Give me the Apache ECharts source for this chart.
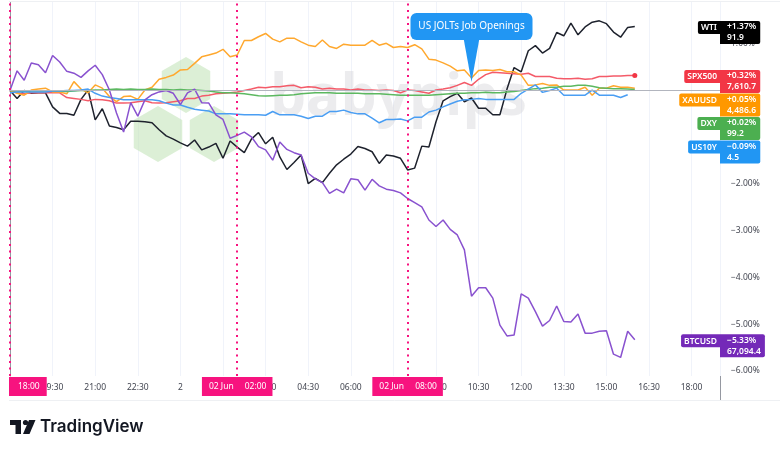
<!DOCTYPE html>
<html><head><meta charset="utf-8">
<script src="https://cdn.jsdelivr.net/npm/echarts@6/dist/echarts.min.js"></script>
<style>html,body{margin:0;padding:0;background:#fff}#c{width:780px;height:451px}</style>
</head><body><div id="c"></div>
<script>
// ---- data (percent change vs 18:00, 15-minute bars) ----
const stepHours = 0.25;                 // bar spacing in hours from 18:00 (1 Jun)
const tickLabels = ['18:00','19:30','21:00','22:30','2','01:30','03:00','04:30','06:00','07:30','09:00','10:30','12:00','13:30','15:00','16:30','18:00'];
const yTicks = [1,0,-1,-2,-3,-4,-5,-6];
const sessionMarks = [0, 8, 14];        // hours after 18:00
const sessionLabels = ['18:00','02 Jun     02:00','02 Jun     08:00'];
const joltsAt = 16.25, joltsLevel = 0.18;
const joltsText = 'US JOLTs Job Openings';

const seriesNames = ['WTI','SPX500','XAUUSD','DXY','US10Y','BTCUSD'];
const lastPct   = ['+1.37%','+0.32%','+0.05%','+0.02%','\u22120.09%','\u22125.33%'];
const lastPrice = ['91.9','7,610.7','4,486.6','99.2','4.5','67,094.4'];

const wti = [0.00,-0.17,0.00,-0.06,-0.05,-0.05,-0.35,-0.49,-0.49,-0.53,
 -0.19,0.01,-0.63,-0.39,-0.76,-0.79,-0.84,-0.66,-0.66,-0.67,
 -0.69,-0.84,-0.97,-1.04,-1.12,-1.19,-1.06,-1.27,-1.21,-1.13,
 -1.45,-1.08,-1.21,-1.33,-1.04,-0.90,-1.14,-1.00,-1.42,-1.69,
 -1.54,-1.38,-1.99,-1.88,-1.97,-1.77,-1.59,-1.47,-1.36,-1.20,
 -1.24,-1.31,-1.56,-1.38,-1.40,-1.45,-1.70,-1.66,-1.19,-1.21,
 -0.67,-0.22,-0.13,-0.06,-0.24,-0.16,-0.38,-0.38,-0.52,-0.52,
 0.03,0.49,0.40,0.85,0.96,0.80,0.90,1.24,1.17,1.44,
 1.19,1.36,1.46,1.49,1.43,1.25,1.14,1.35,1.37];
const spx = [0.00,-0.05,-0.07,-0.05,-0.05,-0.05,-0.05,-0.05,-0.15,-0.17,
 -0.19,-0.22,-0.19,-0.20,-0.22,-0.27,-0.27,-0.26,-0.24,-0.22,
 -0.26,-0.27,-0.26,-0.24,-0.22,-0.17,-0.17,-0.12,-0.10,-0.07,
 -0.06,-0.05,-0.03,0.00,0.03,0.07,0.06,0.08,0.08,0.10,
 0.11,0.06,0.08,0.07,0.03,0.05,0.03,0.03,0.01,0.03,
 0.01,0.01,0.00,0.01,0.00,-0.05,0.01,0.00,-0.03,-0.06,
 0.01,0.03,0.06,0.11,0.17,0.11,0.24,0.34,0.39,0.38,
 0.37,0.36,0.35,0.37,0.30,0.30,0.30,0.26,0.25,0.25,
 0.26,0.24,0.25,0.30,0.30,0.31,0.31,0.32,0.32];
const xau = [0.00,-0.06,-0.10,0.01,0.03,0.05,-0.03,-0.03,-0.07,0.19,
 0.03,-0.05,0.12,0.05,-0.13,-0.24,-0.13,-0.12,-0.19,0.01,
 0.07,0.24,0.28,0.33,0.44,0.45,0.58,0.72,0.76,0.80,
 0.88,0.72,0.76,1.07,1.07,1.15,1.22,1.10,1.04,1.12,
 1.12,1.04,0.97,0.94,1.08,0.94,0.90,0.99,0.97,0.97,
 0.97,1.07,0.97,1.01,0.92,0.94,0.92,0.98,0.89,0.67,
 0.65,0.59,0.52,0.42,0.44,0.27,0.43,0.44,0.43,0.45,
 0.40,0.40,0.33,0.11,0.12,0.15,0.11,0.12,0.01,0.01,
 0.01,0.07,-0.10,0.05,0.05,0.10,0.07,0.07,0.05];
const dxy = [0.00,-0.01,-0.02,-0.01,-0.01,-0.01,-0.01,-0.01,-0.02,-0.01,
 0.00,0.00,0.01,0.01,0.02,0.03,0.02,0.03,0.02,0.02,
 0.03,0.02,0.02,0.01,0.02,0.01,0.01,0.00,-0.01,-0.03,
 -0.05,-0.05,-0.06,-0.07,-0.09,-0.11,-0.12,-0.11,-0.10,-0.10,
 -0.09,-0.07,-0.06,-0.05,-0.05,-0.05,-0.06,-0.06,-0.06,-0.06,
 -0.07,-0.07,-0.07,-0.08,-0.09,-0.10,-0.10,-0.10,-0.10,-0.10,
 -0.09,-0.08,-0.07,-0.06,-0.06,-0.05,-0.05,-0.04,-0.05,-0.05,
 -0.03,-0.02,0.00,0.02,0.04,0.05,0.07,0.07,0.09,0.09,
 0.11,0.11,0.09,0.06,0.05,0.04,0.04,0.03,0.02];
const us10y = [-0.05,-0.03,-0.03,-0.03,-0.03,-0.03,-0.01,-0.01,0.00,0.00,
 0.01,0.03,-0.06,-0.12,-0.15,-0.17,-0.20,-0.20,-0.20,-0.20,
 -0.20,-0.22,-0.27,-0.31,-0.31,-0.36,-0.40,-0.42,-0.44,-0.50,
 -0.50,-0.50,-0.51,-0.52,-0.52,-0.52,-0.53,-0.45,-0.52,-0.52,
 -0.52,-0.55,-0.60,-0.55,-0.55,-0.45,-0.45,-0.42,-0.47,-0.50,
 -0.50,-0.59,-0.69,-0.62,-0.62,-0.61,-0.65,-0.57,-0.57,-0.46,
 -0.42,-0.35,-0.29,-0.23,-0.20,-0.19,-0.17,-0.19,-0.19,-0.19,
 -0.19,-0.19,-0.06,0.03,0.12,-0.04,0.00,0.05,-0.10,-0.10,
 -0.10,-0.10,0.01,-0.10,-0.10,-0.10,-0.15,-0.09];
const btc = [0.00,0.42,0.22,0.59,0.55,0.38,0.75,0.61,0.41,0.37,
 0.28,0.42,0.54,0.34,0.01,-0.48,-0.89,-0.26,-0.55,-0.20,
 -0.09,-0.03,0.00,-0.06,-0.30,-0.05,0.03,-0.26,-0.27,-0.52,
 -0.62,-1.02,-0.96,-0.89,-0.99,-1.20,-1.27,-1.49,-1.10,-1.26,
 -1.33,-1.38,-1.77,-1.89,-1.97,-2.20,-2.11,-2.19,-1.89,-1.91,
 -2.13,-1.90,-2.04,-2.11,-2.14,-2.19,-2.31,-2.40,-2.49,-2.77,
 -2.91,-2.77,-2.97,-3.09,-3.41,-4.40,-4.22,-4.22,-4.44,-5.02,
 -5.25,-5.23,-4.35,-4.44,-4.73,-5.04,-4.92,-4.61,-4.94,-4.95,
 -4.78,-5.19,-5.19,-5.15,-5.14,-5.64,-5.71,-5.15,-5.33];
const seriesValues = [wti, spx, xau, dxy, us10y, btc];

// ---- styling ----
const FONT = '"Noto Sans","Open Sans",sans-serif';
const lineColors = ['#1e222d','#f45b69','#ffa82e','#5cb860','#4a9ef3','#8952cf'];
const tagColors  = ['#000000','#f23645','#ff9800','#4caf50','#2196f3','#7429b8'];
const pink = '#f7137f';

const chart = echarts.init(document.getElementById('c'), null, {renderer:'canvas'});

const series = seriesValues.map((arr, k) => {
  const data = arr.map((v, i) => [i * stepHours, v]);
  if (k === 1) {
    const last = data.length - 1;
    data[last] = {value: data[last], symbol: 'circle', symbolSize: 5};
  }
  const s = {
    type: 'line', name: seriesNames[k], data,
    symbol: 'none', showSymbol: k === 1, animation: false,
    lineStyle: {width: 1.5, color: lineColors[k]},
    itemStyle: {color: '#f23645'},
    emphasis: {disabled: true},
    z: 3
  };
  if (k === 0) {
    s.markLine = {
      silent: true, symbol: ['none','none'], animation: false,
      lineStyle: {color: pink, type: [2,4.5], width: 2},
      label: {show: true, position: 'start', distance: 1, color: '#fff', backgroundColor: pink,
              padding: [4,6,4,7], fontSize: 8.5, lineHeight: 11, fontFamily: FONT, formatter: '{b}'},
      data: sessionMarks.map((h, j) => j === 0
        ? {xAxis: h, name: sessionLabels[j], label: {align: 'left', offset: [-1, 0], padding: [4,7,4,9]}}
        : {xAxis: h, name: sessionLabels[j]})
    };
  }
  if (k === 3) {
    s.markLine = {
      silent: true, symbol: ['none','none'], animation: false,
      lineStyle: {color: '#b2b5be', type: 'solid', width: 1},
      label: {show: false},
      data: [{yAxis: 0}]
    };
  }
  return s;
});

chart.setOption({
  backgroundColor: '#ffffff',
  animation: false,
  grid: {left: 10, right: 60, top: 2, bottom: 75, outerBoundsMode: 'none', containLabel: false},
  xAxis: {
    type: 'value', min: 0, max: 25, interval: 1.5,
    axisLine: {show: true, lineStyle: {color: '#e0e3eb'}},
    axisTick: {show: false},
    splitLine: {show: true, lineStyle: {color: '#f0f3fa', width: 1}},
    axisLabel: {color: '#434651', fontSize: 8.5, fontFamily: FONT, margin: 7, showMaxLabel: false, showMinLabel: false,
      formatter: v => tickLabels[Math.round(v / 1.5)] || ''}
  },
  yAxis: {
    type: 'value', position: 'right', min: -6.107, max: 1.893,
    axisLine: {show: true, lineStyle: {color: '#9598a1'}},
    axisTick: {show: false},
    splitLine: {show: false},
    axisLabel: {color: '#434651', fontSize: 8.5, fontFamily: FONT, margin: 11,
      customValues: yTicks,
      formatter: v => (v < 0 ? '\u2212' : '') + Math.abs(v).toFixed(2) + '%'}
  },
  series
});

// ---- annotations, watermark, price tags ----
const g = [];
g.push({type:'line', z:1, shape:{x1:9, y1:1.5, x2:780, y2:1.5}, style:{stroke:'#eef0f3', lineWidth:1}});
g.push({type:'line', z:1, shape:{x1:9, y1:400.5, x2:780, y2:400.5}, style:{stroke:'#eef0f3', lineWidth:1}});
g.push({type:'line', z:1, shape:{x1:720.5, y1:376, x2:720.5, y2:400}, style:{stroke:'#9598a1', lineWidth:1}});

// babypips watermark (hexagons + text)
function hex(cx, cy, r) {
  const pts = [];
  for (let a = 0; a < 6; a++) {
    const ang = Math.PI / 180 * (60 * a - 90);
    pts.push([cx + r * Math.cos(ang), cy + r * Math.sin(ang)]);
  }
  return pts;
}
[[186, 85], [158, 134], [214, 134]].forEach(c => {
  g.push({type:'polygon', z:0, shape:{points: hex(c[0], c[1], 28)}, style:{fill:'rgba(196,228,186,0.6)'}});
});
g.push({type:'text', z:0, style:{text:'babypips', x:270, y:70, verticalAlign:'top',
  font:'bold 57px "Open Sans", sans-serif', fill:'rgba(212,213,217,0.45)'}});

// JOLTs callout
const tip = chart.convertToPixel({gridIndex: 0}, [joltsAt, joltsLevel]);
g.push({type:'polygon', z:50, shape:{points:[[tip[0]-8, 38],[tip[0]+8, 38],[tip[0], tip[1]]]}, style:{fill:'#2196f3'}});
g.push({type:'rect', z:50, shape:{x: tip[0]-61, y: 13, width: 122, height: 27, r: 6}, style:{fill:'#2196f3'}});
g.push({type:'text', z:51, style:{text: joltsText, x: tip[0], y: 26.5, align:'center', verticalAlign:'middle',
  font:'10px ' + FONT, fill:'#ffffff'}});

// price tags on the right scale
const tags = seriesValues.map((arr, k) => {
  const v = arr[arr.length - 1];
  const y = chart.convertToPixel({yAxisIndex: 0}, v);
  return {k, y};
}).sort((a, b) => a.y - b.y);
let prevBottom = -1e9;
tags.forEach(t => {
  let top = Math.max(t.y - 5.5, prevBottom + 0.5);
  prevBottom = top + 23;
  const k = t.k;
  g.push({type:'text', z:100, style:{text: seriesNames[k], x: 720, y: top, align:'right', verticalAlign:'top',
    font:'600 8.5px ' + FONT, fill:'#ffffff', backgroundColor: tagColors[k], padding:[1,3,0,3], lineHeight:12,
    borderRadius:[2,0,0,2]}});
  g.push({type:'text', z:100, style:{text: lastPct[k] + '\n' + lastPrice[k], x: 720, y: top, align:'left', verticalAlign:'top',
    font:'600 8.5px ' + FONT, fill:'#ffffff', backgroundColor: tagColors[k], padding:[0.5,4,0.5,7], lineHeight:11,
    borderRadius:[0,2,2,0]}});
});

// TradingView logo
g.push({type:'rect', z:10, shape:{x:10, y:420, width:11, height:5}, style:{fill:'#131722'}});
g.push({type:'rect', z:10, shape:{x:15.5, y:420, width:5.5, height:14}, style:{fill:'#131722'}});
g.push({type:'circle', z:10, shape:{cx:25.5, cy:422.5, r:2.6}, style:{fill:'#131722'}});
g.push({type:'polygon', z:10, shape:{points:[[29,420],[35.5,420],[29.5,434],[23,434]]}, style:{fill:'#131722'}});
g.push({type:'text', z:10, style:{text:'TradingView', x:40, y:427, verticalAlign:'middle', font:'600 17px Inter, "Noto Sans", sans-serif', fill:'#131722'}});

chart.setOption({graphic: {elements: g}});
</script></body></html>
